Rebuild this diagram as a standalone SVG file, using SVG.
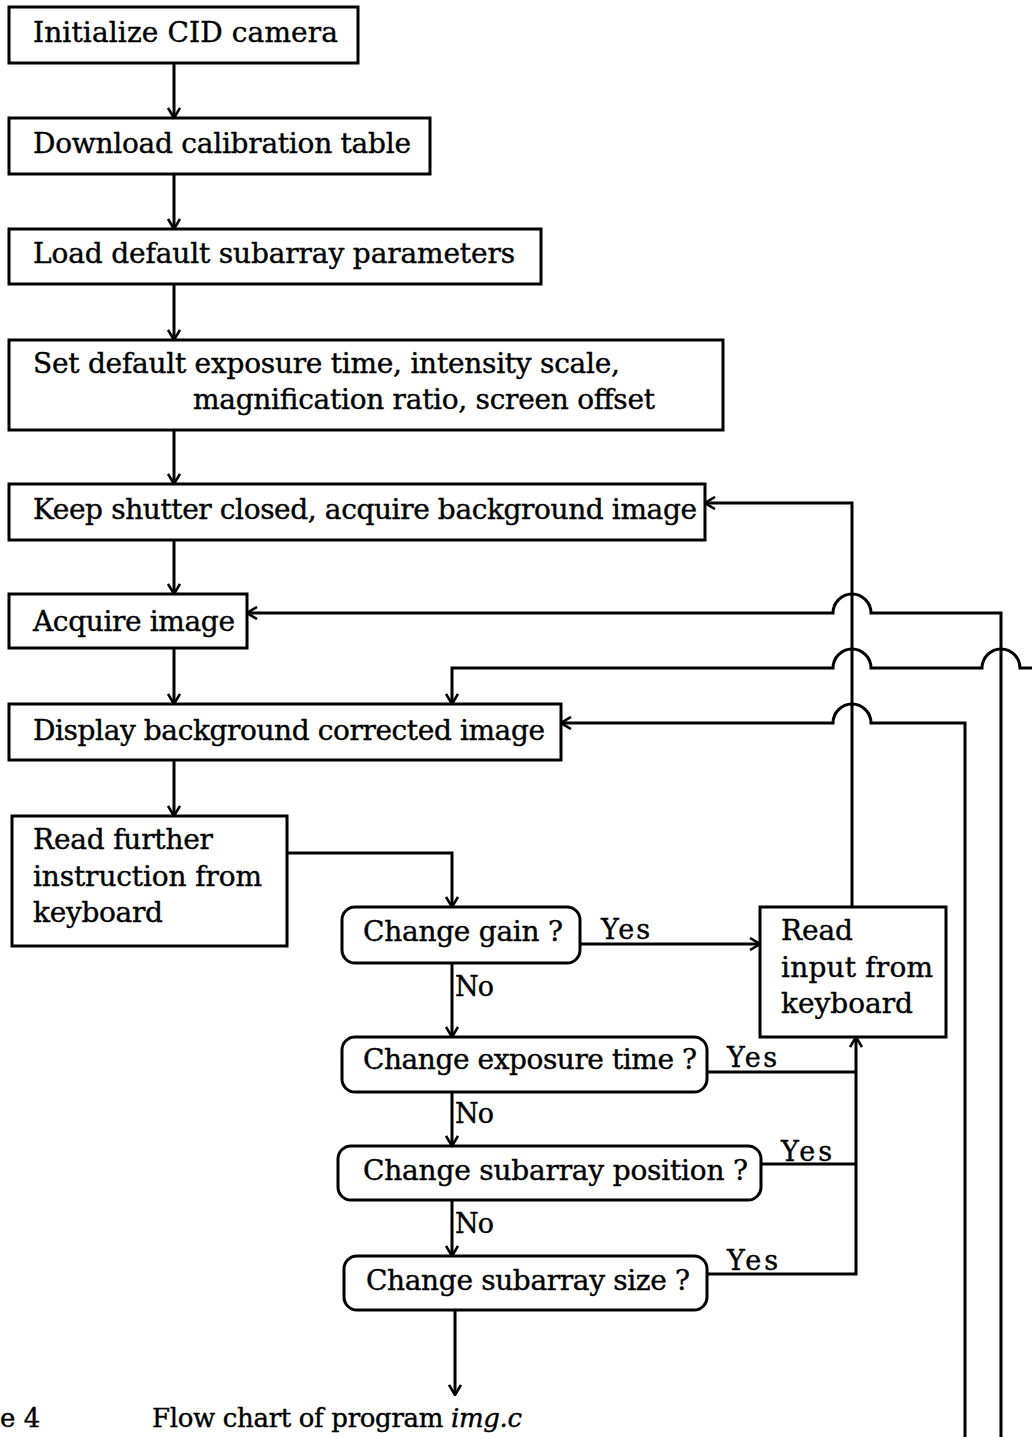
<svg xmlns="http://www.w3.org/2000/svg" width="1032" height="1437" viewBox="0 0 1032 1437">
  <style>
    .box { fill: #fff; stroke: #000; stroke-width: 3; }
    .dec { fill: #fff; stroke: #000; stroke-width: 3; }
    .t { font-family: "DejaVu Serif", "Liberation Serif", serif; font-size: 28px; fill: #000; stroke: #000; stroke-width: 0.4; }
    .lbl { font-family: "DejaVu Serif", "Liberation Serif", serif; font-size: 27px; fill: #000; stroke: #000; stroke-width: 0.4; }
    .cap { font-family: "DejaVu Serif", "Liberation Serif", serif; font-size: 26px; fill: #000; stroke: #000; stroke-width: 0.4; }
    .ln { fill: none; stroke: #000; stroke-width: 3; }
    .arr { fill: none; stroke: #000; stroke-width: 3; marker-end: url(#ah); }
  </style>
  <defs>
    <marker id="ah" viewBox="0 0 12 14" refX="11" refY="7" markerWidth="12" markerHeight="14" markerUnits="userSpaceOnUse" orient="auto">
      <path d="M1,1 L11,7 L1,13" fill="none" stroke="#000" stroke-width="2.6"/>
    </marker>
  </defs>
  <rect width="1032" height="1437" fill="#fff"/>

  <!-- connectors -->
  <g id="connectors">
    <!-- main sequence -->
    <path class="arr" d="M174,63 V118"/>
    <path class="arr" d="M174,174 V229"/>
    <path class="arr" d="M174,284 V340"/>
    <path class="arr" d="M174,430 V484"/>
    <path class="arr" d="M174,540 V594"/>
    <path class="arr" d="M174,648 V704"/>
    <path class="arr" d="M174,760 V816"/>
    <!-- instruction to decision chain -->
    <path class="arr" d="M287,853 H452 V907"/>
    <path class="arr" d="M580,944 H760"/>
    <path class="arr" d="M452,963 V1037"/>
    <path class="arr" d="M452,1092 V1146"/>
    <path class="arr" d="M452,1200 V1256"/>
    <path class="arr" d="M455,1310 V1395"/>
    <!-- yes branches into read input -->
    <path class="ln" d="M707,1072 H856"/>
    <path class="ln" d="M760,1164 H856"/>
    <path class="arr" d="M707,1274 H856 V1037"/>
    <!-- read input back to background acquisition -->
    <path class="arr" d="M852,907 V503 H705"/>
    <!-- return loops with line hops -->
    <path class="arr" d="M1001,1437 V613 H871 A19,19 0 0 0 833,613 H247"/>
    <path class="arr" d="M1032,668 H1020 A19,19 0 0 0 982,668 H871 A19,19 0 0 0 833,668 H452 V704"/>
    <path class="arr" d="M965,1437 V723 H871 A19,19 0 0 0 833,723 H561"/>
  </g>

  <!-- process boxes -->
  <g id="init">
    <rect class="box" x="9" y="7" width="349" height="56"/>
    <text class="t" x="33" y="42" textLength="305">Initialize CID camera</text>
  </g>
  <g id="download">
    <rect class="box" x="9" y="118" width="421" height="56"/>
    <text class="t" x="33" y="153" textLength="378">Download calibration table</text>
  </g>
  <g id="load">
    <rect class="box" x="9" y="229" width="532" height="55"/>
    <text class="t" x="33" y="263" textLength="482">Load default subarray parameters</text>
  </g>
  <g id="defaults">
    <rect class="box" x="9" y="340" width="714" height="90"/>
    <text class="t" x="33" y="373" textLength="587">Set default exposure time, intensity scale,</text>
    <text class="t" x="193" y="409" textLength="462">magnification ratio, screen offset</text>
  </g>
  <g id="background">
    <rect class="box" x="9" y="484" width="696" height="56"/>
    <text class="t" x="33" y="519" textLength="664">Keep shutter closed, acquire background image</text>
  </g>
  <g id="acquire">
    <rect class="box" x="9" y="594" width="238" height="54"/>
    <text class="t" x="33" y="631" textLength="202">Acquire image</text>
  </g>
  <g id="display">
    <rect class="box" x="9" y="704" width="552" height="56"/>
    <text class="t" x="33" y="740" textLength="512">Display background corrected image</text>
  </g>
  <g id="read-instruction">
    <rect class="box" x="12" y="816" width="275" height="130"/>
    <text class="t" x="33" y="849" textLength="180">Read further</text>
    <text class="t" x="33" y="886" textLength="229">instruction from</text>
    <text class="t" x="33" y="922" textLength="130">keyboard</text>
  </g>
  <g id="read-input">
    <rect class="box" x="760" y="907" width="186" height="130"/>
    <text class="t" x="781" y="940" textLength="72">Read</text>
    <text class="t" x="781" y="977" textLength="152">input from</text>
    <text class="t" x="781" y="1013" textLength="132">keyboard</text>
  </g>

  <!-- decisions -->
  <g id="gain">
    <rect class="dec" x="342" y="907" width="238" height="56" rx="13"/>
    <text class="t" x="363" y="941" textLength="200">Change gain ?</text>
    <text class="lbl" x="601" y="939" textLength="49">Yes</text>
    <text class="lbl" x="455" y="996" textLength="39">No</text>
  </g>
  <g id="exposure">
    <rect class="dec" x="342" y="1037" width="365" height="55" rx="13"/>
    <text class="t" x="363" y="1069" textLength="334">Change exposure time ?</text>
    <text class="lbl" x="727" y="1067" textLength="50">Yes</text>
    <text class="lbl" x="455" y="1123" textLength="39">No</text>
  </g>
  <g id="position">
    <rect class="dec" x="338" y="1146" width="423" height="54" rx="13"/>
    <text class="t" x="363" y="1180" textLength="385">Change subarray position ?</text>
    <text class="lbl" x="781" y="1161" textLength="51">Yes</text>
    <text class="lbl" x="455" y="1233" textLength="39">No</text>
  </g>
  <g id="size">
    <rect class="dec" x="344" y="1256" width="363" height="54" rx="13"/>
    <text class="t" x="366" y="1290" textLength="324">Change subarray size ?</text>
    <text class="lbl" x="727" y="1270" textLength="51">Yes</text>
  </g>

  <!-- caption -->
  <g id="caption">
    <text class="cap" x="0" y="1427">e 4</text>
    <text class="cap" x="152" y="1427" textLength="370">Flow chart of program <tspan font-style="italic">img.c</tspan></text>
  </g>
</svg>
